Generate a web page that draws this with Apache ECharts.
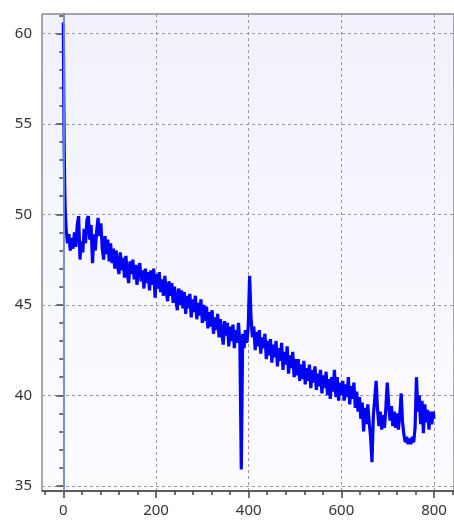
<!DOCTYPE html>
<html>
<head>
<meta charset="utf-8">
<script src="https://cdn.jsdelivr.net/npm/echarts@6/dist/echarts.min.js"></script>
<style>
html,body{margin:0;padding:0;background:#fff;}
#chart{width:454px;height:522px;}
</style>
</head>
<body>
<div id="chart"></div>
<script>
// Sample positions (x) and values (y)
const sampleX = [
0,1,2,3,4,
6,9,12,15,18,21,24,27,30,33,36,39,42,45,48,51,54,57,60,63,66,69,72,75,78,81,84,87,90,93,96,99,
102,105,108,111,114,117,120,123,126,129,132,135,138,141,144,147,150,153,156,159,162,165,168,171,174,177,180,183,186,189,192,195,198,201,
204,207,210,213,216,219,222,225,228,231,234,237,240,243,246,249,252,255,258,261,264,267,270,273,276,279,282,285,288,291,294,297,300,
303,306,309,312,315,318,321,324,327,330,333,336,339,342,345,348,351,354,357,360,363,366,369,372,375,378,381,
384,387,390,393,396,399,402,405,408,
411,414,417,420,423,426,429,432,435,438,441,444,447,450,453,456,459,462,465,468,471,474,477,480,483,486,489,492,495,498,501,
504,507,510,513,516,519,522,525,528,531,534,537,540,543,546,549,552,555,558,561,564,567,570,573,576,579,582,585,588,591,594,597,600,
603,606,609,612,615,618,621,624,627,630,633,636,639,642,645,648,651,654,657,660,663,666,669,672,675,678,681,684,687,690,693,696,699,
702,705,708,711,714,717,720,723,726,729,732,735,738,741,744,747,750,753,756,759,762,765,768,771,774,777,780,783,786,789,792,795,798,800];

const sampleY = [
60.6,56.5,53.5,51.5,50.3,
49.2,48.4,48.9,48.0,48.7,48.1,49.0,48.2,49.4,49.9,47.5,48.5,47.9,49.2,48.4,49.7,49.9,48.6,49.4,47.3,48.9,48.0,49.1,49.8,48.8,49.5,48.1,47.5,48.8,47.8,48.6,47.4,
48.4,47.3,48.1,47.0,48.0,47.2,46.7,47.9,46.9,47.6,46.5,47.7,46.8,46.2,47.4,46.7,47.5,46.4,47.2,46.1,47.0,47.3,46.3,46.9,45.9,47.0,46.2,46.8,45.8,46.9,46.1,47.0,45.4,46.7,
45.9,46.8,45.7,46.4,45.5,46.6,45.8,45.2,46.3,45.5,46.2,45.1,46.0,45.3,44.7,45.9,45.0,45.8,44.8,45.7,44.5,45.5,44.8,45.6,44.3,45.3,44.6,45.5,44.2,45.1,44.4,45.3,44.0,
45.0,44.1,44.9,43.7,44.6,43.8,44.7,43.4,44.3,43.6,44.5,43.2,44.2,43.5,42.8,44.1,43.3,44.0,42.7,43.8,43.0,43.9,42.6,43.6,42.9,44.0,42.8,
35.9,43.4,42.6,43.6,42.9,43.8,46.6,44.3,43.2,
43.8,42.5,43.5,42.7,43.6,42.3,43.2,42.6,43.4,42.0,43.0,42.2,43.1,41.8,42.8,42.1,43.0,41.6,42.6,41.9,42.9,41.4,42.4,41.7,42.7,41.2,42.2,41.5,42.4,41.0,42.0,
41.1,42.0,40.8,41.7,40.9,41.9,40.6,41.5,40.8,41.7,40.4,41.4,40.7,41.6,40.3,41.2,40.5,41.4,40.1,41.1,40.4,41.3,40.0,40.9,39.8,41.0,40.2,41.4,39.9,41.0,39.7,40.7,40.0,
40.8,39.7,40.6,39.9,41.0,39.5,40.5,39.8,40.7,39.3,40.2,39.1,39.9,38.7,39.6,38.0,39.3,38.4,39.5,38.5,37.7,36.3,38.9,39.8,40.8,39.2,38.3,39.1,38.1,38.9,38.2,39.3,40.7,
39.5,38.6,39.4,38.3,39.1,38.2,39.0,38.1,38.9,40.1,38.5,37.8,37.4,37.7,37.3,37.6,37.3,37.7,37.4,38.2,41.0,39.1,40.0,38.4,39.7,37.9,39.5,38.5,39.2,38.1,39.1,38.4,39.1,38.7];

const xMajorTicks = [0,200,400,600,800];
const xMinorTicks = [-40,0,40,80,120,160,200,240,280,320,360,400,440,480,520,560,600,640,680,720,760,800,840];
const yMajorTicks = [35,40,45,50,55,60];
const yMinorTicks = [35,36,37,38,39,40,41,42,43,44,45,46,47,48,49,50,51,52,53,54,55,56,57,58,59,60,61];

const xMin = -46, xMax = 843;
const yMin = 34.71, yMax = 61.07;

const seriesData = sampleX.map((x, i) => [x, sampleY[i]]);

const labelStyle = {color:'#333', fontSize:15, fontFamily:'Noto Sans'};
const axisColor = '#444';

const chart = echarts.init(document.getElementById('chart'), null, {renderer:'canvas'});
chart.setOption({
  animation:false,
  grid:{
    left:42, right:-1, top:14, bottom:31,
    show:true,
    borderColor:'#555', borderWidth:1,
    backgroundColor:{type:'linear', x:0, y:0, x2:0, y2:1,
      colorStops:[{offset:0,color:'#f1f1fd'},{offset:1,color:'#fcfcff'}]}
  },
  xAxis:[
    {type:'value', min:xMin, max:xMax, position:'bottom',
     axisLine:{show:true, lineStyle:{color:axisColor, width:1.5}},
     axisTick:{show:true, length:7, customValues:xMajorTicks, lineStyle:{color:axisColor, width:1.5}},
     axisLabel:Object.assign({customValues:xMajorTicks, margin:12}, labelStyle),
     splitLine:{show:true, lineStyle:{color:'#9a9a9a', type:[3,3], width:1}}},
    {type:'value', min:xMin, max:xMax, position:'bottom',
     axisLine:{show:false},
     axisTick:{show:true, length:4, customValues:xMinorTicks, lineStyle:{color:axisColor, width:1.5}},
     axisLabel:{show:false},
     splitLine:{show:false}}
  ],
  yAxis:[
    {type:'value', min:yMin, max:yMax, position:'left',
     axisLine:{show:true, lineStyle:{color:axisColor, width:1.5}},
     axisTick:{show:true, length:7, customValues:yMajorTicks, lineStyle:{color:axisColor, width:1.5}},
     axisLabel:Object.assign({customValues:yMajorTicks, margin:10}, labelStyle),
     splitLine:{show:true, lineStyle:{color:'#9a9a9a', type:[3,3], width:1}}},
    {type:'value', min:yMin, max:yMax, position:'left',
     axisLine:{show:false},
     axisTick:{show:true, length:4, customValues:yMinorTicks, lineStyle:{color:axisColor, width:1.5}},
     axisLabel:{show:false},
     splitLine:{show:false}}
  ],
  series:[
    {type:'line', data:[], xAxisIndex:0, yAxisIndex:0, z:1,
     markLine:{silent:true, symbol:['none','none'], label:{show:false},
       lineStyle:{color:'#78a3ee', width:1.5, type:'solid'},
       data:[{xAxis:0}]}},
    {type:'line', data:seriesData, xAxisIndex:0, yAxisIndex:0, z:3,
     showSymbol:false, symbol:'none',
     lineStyle:{color:'#0000ff', width:3.2, join:'miter', miterLimit:4}}
  ]
});
</script>
</body>
</html>
